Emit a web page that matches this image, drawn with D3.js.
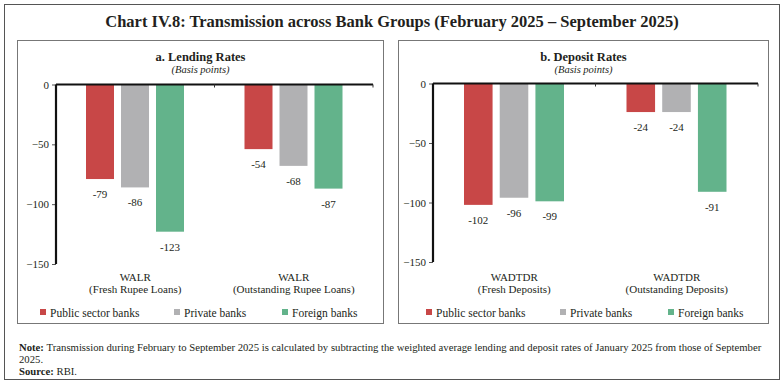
<!DOCTYPE html>
<html><head><meta charset="utf-8">
<script src="https://cdn.jsdelivr.net/npm/d3@7/dist/d3.min.js"></script>
<style>
body{margin:0;background:#fff;}
svg text{font-family:"Liberation Serif","DejaVu Serif",serif;fill:#231f20;}
</style></head>
<body><svg id="c" width="784" height="383"></svg>
<script>
const series = ["Public sector banks","Private banks","Foreign banks"];
const colors = ["#C84747","#B1B1B3","#63B38B"];
const lendCats = [["WALR","(Fresh Rupee Loans)"],["WALR","(Outstanding Rupee Loans)"]];
const lendPSB = [-79,-54];
const lendPVT = [-86,-68];
const lendFOR = [-123,-87];
const depCats = [["WADTDR","(Fresh Deposits)"],["WADTDR","(Outstanding Deposits)"]];
const depPSB = [-102,-24];
const depPVT = [-96,-24];
const depFOR = [-99,-91];
const yTicks = [0,-50,-100,-150];

const svg = d3.select("#c");
svg.append("rect").attr("x",4.5).attr("y",4.5).attr("width",775).attr("height",375)
  .attr("fill","none").attr("stroke","#555").attr("stroke-width",1);
svg.append("text").attr("x",392).attr("y",27).attr("text-anchor","middle")
  .style("font-size","16.5px").style("font-weight","bold")
  .text("Chart IV.8: Transmission across Bank Groups (February 2025 \u2013 September 2025)");

function panel(opt){
  const g = svg.append("g");
  g.append("rect").attr("x",opt.bx).attr("y",40.5).attr("width",opt.bw).attr("height",283)
    .attr("fill","none").attr("stroke","#777").attr("stroke-width",1);
  const cx = opt.bx + opt.bw/2;
  g.append("text").attr("x",cx).attr("y",61).attr("text-anchor","middle")
    .style("font-size","12.5px").style("font-weight","bold").text(opt.title);
  g.append("text").attr("x",cx).attr("y",73).attr("text-anchor","middle")
    .style("font-size","10.5px").style("font-style","italic").text("(Basis points)");
  const y = d3.scaleLinear().domain([-150,0]).range([opt.y1,opt.y0]);
  const x0 = d3.scaleBand().domain([0,1]).range([opt.x0,opt.x1]).padding(0);
  const x1 = d3.scaleBand().domain([0,1,2]).range([opt.inL, opt.inR]).paddingInner(0.2).paddingOuter(0);
  const vals = [opt.a, opt.b, opt.c];
  [0,1].forEach(ci=>{
    vals.forEach((arr,si)=>{
      const v = arr[ci];
      const bx = x0(ci)+x1(si);
      g.append("rect").attr("x",bx).attr("y",y(0)).attr("width",x1.bandwidth())
        .attr("height",y(v)-y(0)).attr("fill",colors[si]);
      g.append("text").attr("x",bx+x1.bandwidth()/2).attr("y",y(v)+19).attr("text-anchor","middle")
        .style("font-size","11px").text(v);
    });
    const lx = x0(ci)+x0.bandwidth()/2;
    g.append("text").attr("x",lx).attr("y",281).attr("text-anchor","middle").style("font-size","11px").text(opt.cats[ci][0]);
    g.append("text").attr("x",lx).attr("y",293).attr("text-anchor","middle").style("font-size","11px").text(opt.cats[ci][1]);
  });
  const ya = g.append("g").attr("transform",`translate(${opt.x0},0)`)
    .call(d3.axisLeft(y).tickValues(yTicks).tickSize(4).tickPadding(3).tickFormat(d3.format("d")));
  ya.select(".domain").remove();
  ya.selectAll("line").attr("stroke","#555");
  ya.selectAll("text").style("font-size","11px").style("font-family","'Liberation Serif',serif").attr("fill","#231f20");
  g.append("line").attr("x1",opt.x0).attr("x2",opt.x0).attr("y1",y(0)).attr("y2",y(-150))
    .attr("stroke","#111").attr("stroke-width",2.2);
  g.append("line").attr("x1",opt.x0).attr("x2",opt.x1).attr("y1",y(0)).attr("y2",y(0))
    .attr("stroke","#111").attr("stroke-width",2);
  [x0(1), opt.x1].forEach(t=>{
    g.append("line").attr("x1",t).attr("x2",t).attr("y1",y(0)).attr("y2",y(0)+3).attr("stroke","#333").attr("stroke-width",1);
  });
  opt.leg.forEach((lx,i)=>{
    g.append("rect").attr("x",lx).attr("y",309).attr("width",6).attr("height",6).attr("fill",colors[i]);
    g.append("text").attr("x",lx+10).attr("y",317).style("font-size","11.5px").text(series[i]);
  });
}

panel({bx:17.5,bw:366,title:"a.  Lending Rates",x0:56,x1:373,y0:84.5,y1:264,inL:30,inR:128,
  a:lendPSB,b:lendPVT,c:lendFOR,cats:lendCats,leg:[40,174,282]});
panel({bx:398.5,bw:370,title:"b. Deposit Rates",x0:433,x1:758,y0:83.5,y1:262,inL:31,inR:131,
  a:depPSB,b:depPVT,c:depFOR,cats:depCats,leg:[426,560,668]});

const note = svg.append("text").attr("x",19).attr("y",351).style("font-size","10.7px");
note.append("tspan").style("font-weight","bold").text("Note: ");
note.append("tspan").text("Transmission during February to September 2025 is calculated by subtracting the weighted average lending and deposit rates of January 2025 from those of September");
svg.append("text").attr("x",19).attr("y",363).style("font-size","10.7px").text("2025.");
const src = svg.append("text").attr("x",19).attr("y",375).style("font-size","10.7px");
src.append("tspan").style("font-weight","bold").text("Source: ");
src.append("tspan").text("RBI.");
</script></body></html>
